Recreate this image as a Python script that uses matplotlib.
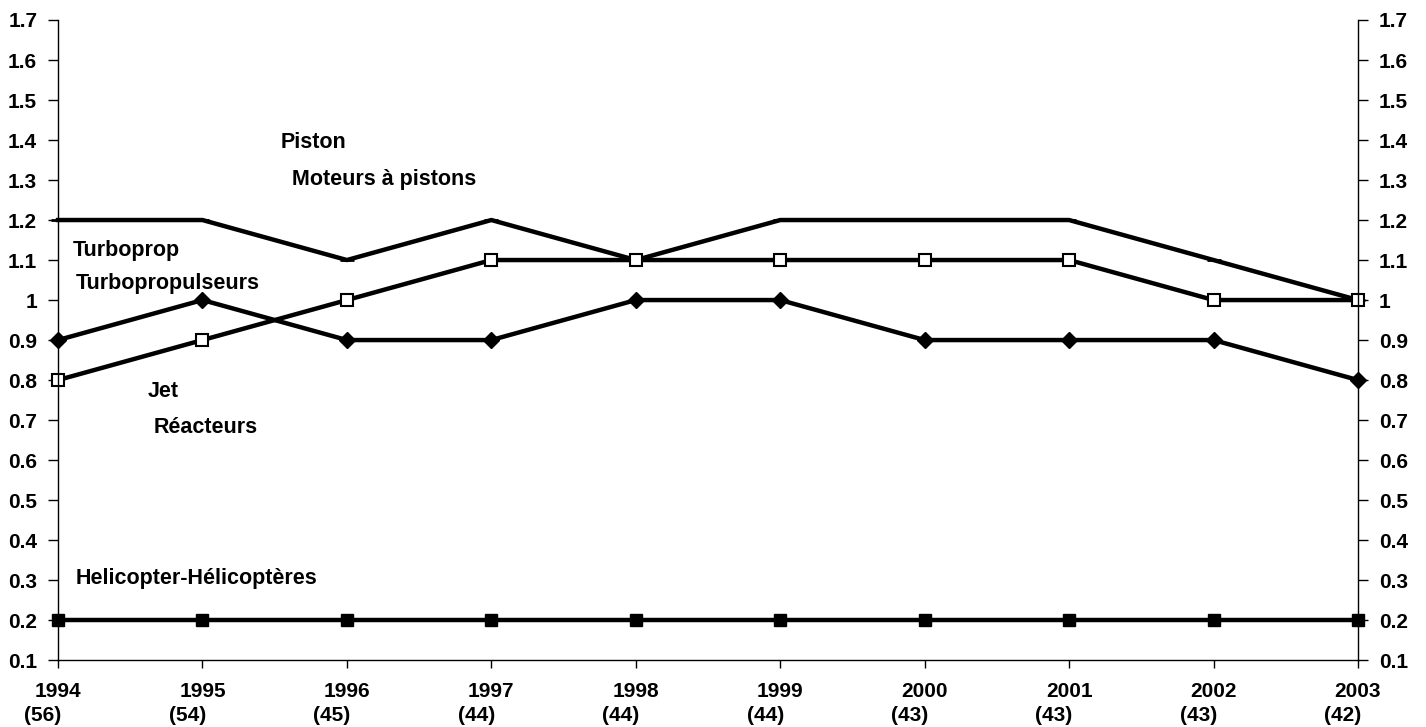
import matplotlib.pyplot as plt

plt.rcParams['font.family'] = ['Liberation Sans', 'DejaVu Sans']
plt.rcParams['font.weight'] = 'bold'

# Data
years = [1994, 1995, 1996, 1997, 1998, 1999, 2000, 2001, 2002, 2003]
counts = [56, 54, 45, 44, 44, 44, 43, 43, 43, 42]
piston = [1.2, 1.2, 1.1, 1.2, 1.1, 1.2, 1.2, 1.2, 1.1, 1.0]
turboprop = [0.8, 0.9, 1.0, 1.1, 1.1, 1.1, 1.1, 1.1, 1.0, 1.0]
jet = [0.9, 1.0, 0.9, 0.9, 1.0, 1.0, 0.9, 0.9, 0.9, 0.8]
helicopter = [0.2, 0.2, 0.2, 0.2, 0.2, 0.2, 0.2, 0.2, 0.2, 0.2]
y_ticks = [0.1, 0.2, 0.3, 0.4, 0.5, 0.6, 0.7, 0.8, 0.9, 1, 1.1, 1.2, 1.3, 1.4, 1.5, 1.6, 1.7]

fig = plt.figure(figsize=(14.26, 7.27), dpi=100)
ax = fig.add_axes([0.0407, 0.092, 0.9116, 0.8805])

ax.plot(years, piston, color='black', lw=3.2, marker='_', ms=10, mew=2, clip_on=False)
ax.plot(years, turboprop, color='black', lw=3.2, marker='s', ms=9, mfc='white', mec='black', mew=1.5, clip_on=False)
ax.plot(years, jet, color='black', lw=3.2, marker='D', ms=8, clip_on=False)
ax.plot(years, helicopter, color='black', lw=3.2, marker='s', ms=9, clip_on=False)

# Series labels
txt = dict(fontsize=15.5, fontweight='bold', va='center', ha='left')
ax.text(1995.54, 1.395, 'Piston', **txt)
ax.text(1995.62, 1.3025, 'Moteurs à pistons', **txt)
ax.text(1994.10, 1.125, 'Turboprop', **txt)
ax.text(1994.12, 1.0425, 'Turbopropulseurs', **txt)
ax.text(1994.62, 0.7725, 'Jet', **txt)
ax.text(1994.66, 0.6825, 'Réacteurs', **txt)
ax.text(1994.12, 0.305, 'Helicopter-Hélicoptères', **txt)

ax.set_xlim(1994, 2003)
ax.set_ylim(0.1, 1.7)
ax.set_yticks(y_ticks)
ax.set_yticklabels([f'{v:g}' for v in y_ticks])
ax.set_xticks(years)
ax.set_xticklabels([str(y) for y in years])

# aircraft counts under each year
for y, c in zip(years, counts):
    ax.annotate(f'({c})', xy=(y, 0), xycoords=('data', 'axes fraction'),
                xytext=(-15, -55), textcoords='offset pixels',
                ha='center', va='center', fontsize=15, fontweight='bold',
                annotation_clip=False)

ax.tick_params(axis='y', right=True, labelright=True, direction='out', length=7,
               labelsize=15, width=1, pad=8)
ax.tick_params(axis='x', direction='out', length=6, labelsize=15, width=1, pad=10)
for lab in ax.get_xticklabels() + ax.get_yticklabels():
    lab.set_fontweight('bold')
for t in ax.yaxis.get_major_ticks():
    t.label2.set_fontweight('bold')

ax.spines['top'].set_visible(False)
for s in ['left', 'right', 'bottom']:
    ax.spines[s].set_linewidth(1)

fig.savefig('out.png', dpi=100)
